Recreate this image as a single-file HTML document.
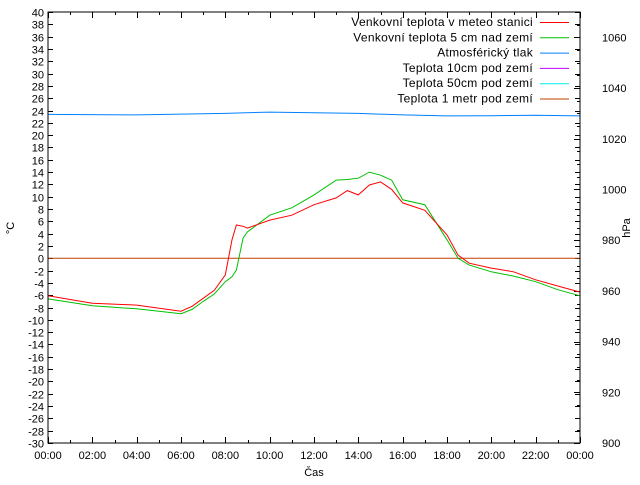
<!DOCTYPE html>
<html><head><meta charset="utf-8"><style>
body{margin:0;background:#fff}
svg text{font-family:"Liberation Sans",sans-serif;font-size:11px;fill:#000}
svg #legend text{font-size:12px;letter-spacing:0.3px}
</style></head><body>
<svg id="c" width="640" height="480" xmlns="http://www.w3.org/2000/svg">
<rect x="0" y="0" width="640" height="480" fill="#fff"/>
<g id="grid"></g>
<g id="series"></g>
<rect x="48" y="12" width="532" height="431" fill="none" stroke="#000" stroke-width="1"/>
<text x="14" y="228" text-anchor="middle" transform="rotate(-90 14 228)">°C</text>
<text x="630" y="228" text-anchor="middle" transform="rotate(-90 630 228)">hPa</text>
<text x="314" y="476" text-anchor="middle">Čas</text>
<g id="legend"></g>
</svg>
<script>
const hours=[0,2,4,6,6.5,7,7.5,8,8.3,8.5,8.8,9,10,11,12,13,13.5,14,14.5,15,15.5,16,17,18,18.5,19,20,21,22,23,24];
const redT=[-6.1,-7.3,-7.6,-8.6,-7.8,-6.5,-5.2,-2.7,3,5.4,5.2,4.9,6.2,7,8.7,9.8,11,10.3,11.9,12.4,11.2,9,7.8,3.8,0.5,-0.8,-1.6,-2.2,-3.5,-4.5,-5.5];
const greenT=[-6.6,-7.7,-8.2,-9,-8.3,-7,-5.8,-3.8,-3,-1.9,3.3,4.3,7,8.2,10.3,12.7,12.8,13,14,13.5,12.7,9.5,8.7,3,0,-1.1,-2.2,-2.9,-3.8,-5.1,-6.1];
const pHours=[0,4,8,10,12,14,16,18,20,22,24];
const pressure=[1029.6,1029.4,1030,1030.5,1030.3,1030,1029.4,1029,1029.1,1029.3,1029];
const groundHours=[0,24];
const ground1m=[0,0];
const yTicks=[];for(let v=-30;v<=40;v+=2)yTicks.push(v);
const y2Ticks=[900,920,940,960,980,1000,1020,1040,1060];
const xTickLabels=["00:00","02:00","04:00","06:00","08:00","10:00","12:00","14:00","16:00","18:00","20:00","22:00","00:00"];
const legendNames=["Venkovní teplota v meteo stanici","Venkovní teplota 5 cm nad zemí","Atmosférický tlak","Teplota 10cm pod zemí","Teplota 50cm pod zemí","Teplota 1 metr pod zemí"];
const legendColors=["#ff0000","#00c000","#0080ff","#c000ff","#00eeee","#c04000"];
const L=48,R=580,T=12,B=443;
const X=h=>L+h/24*(R-L);
const Y=v=>B-(v+30)/70*(B-T);
const Y2=p=>B-(p-900)/170*(B-T);
const NS="http://www.w3.org/2000/svg";
const g=document.getElementById('grid'),s=document.getElementById('series'),lg=document.getElementById('legend');
function mk(t,a,p){const e=document.createElementNS(NS,t);for(const k in a)e.setAttribute(k,a[k]);p.appendChild(e);return e;}
yTicks.forEach(v=>{const y=Math.round(Y(v))+.5;
 const l=mk('path',{d:`M${L},${y}h5M${R},${y}h-5`,stroke:'#000'},g);
 
 
 const t=mk('text',{x:L-4,y:y+4,'text-anchor':'end'},g);t.textContent=v;
 
 });
for(let p=900;p<=1070;p+=5){const y=Math.round(Y2(p))+.5;const l=mk('path',{d:`M${R},${y}h${p%20==0?-6:-3}`,stroke:'#000'},g);
 
 }
y2Ticks.forEach(p=>{const t=mk('text',{x:R+22,y:Y2(p)+4},g);t.textContent=p;
 
 });
for(let h=0;h<=24;h++){const x=Math.round(X(h))+.5;const len=h%2==0?6:3;
 const l=mk('path',{d:`M${x},${B}v${-len}M${x},${T}v${len}`,stroke:'#000'},g);
 
 }
xTickLabels.forEach((lab,i)=>{const t=mk('text',{x:X(i*2),y:B+16,'text-anchor':'middle'},g);t.textContent=lab;
 
 });
function line(xs,ys,fy,col,name){const d=xs.map((h,i)=>(i?'L':'M')+X(h).toFixed(1)+','+fy(ys[i]).toFixed(1)).join('');
 const p=mk('path',{d:d,fill:'none',stroke:col,'stroke-width':1},s);
 
 }
line(groundHours,ground1m,Y,'#c04000','series-ground-1m');
line(pHours,pressure,Y2,'#0080ff','series-pressure');
line(hours,greenT,Y,'#00c000','series-temp-5cm');
line(hours,redT,Y,'#ff0000','series-temp-station');
legendNames.forEach((n,i)=>{const y=22+i*15.3;
 const t=mk('text',{x:533,y:y+4,'text-anchor':'end'},lg);t.textContent=n;
 
 
 const l=mk('path',{d:`M540,${y+.5}h29`,stroke:legendColors[i]},lg);
 
 });
</script>
</body></html>
